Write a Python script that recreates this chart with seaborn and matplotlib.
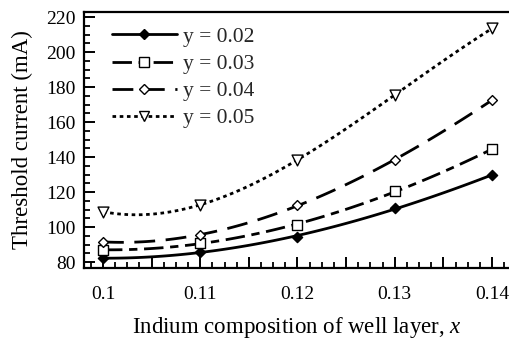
import numpy as np
import pandas as pd
import matplotlib
matplotlib.use("Agg")
import matplotlib.pyplot as plt
from matplotlib.lines import Line2D
from matplotlib.ticker import MultipleLocator, FuncFormatter
import seaborn as sns

# ---- data ----
x_vals = [0.10, 0.11, 0.12, 0.13, 0.14]
y_002 = [82.1, 85.9, 94.5, 110.7, 129.7]
y_003 = [86.9, 91.0, 101.1, 120.6, 144.4]
y_004 = [91.6, 95.4, 112.6, 138.3, 172.6]
y_005 = [108.8, 112.6, 138.6, 175.4, 213.5]
labels = ["y = 0.02", "y = 0.03", "y = 0.04", "y = 0.05"]
series = [y_002, y_003, y_004, y_005]

sns.set_theme(style="ticks")
plt.rcParams["font.family"] = ["Liberation Serif", "DejaVu Serif"]
plt.rcParams["mathtext.fontset"] = "custom"
plt.rcParams["mathtext.rm"] = "Liberation Serif"
plt.rcParams["mathtext.it"] = "Liberation Serif:italic"

fig = plt.figure(figsize=(5.1, 3.4), dpi=100)
ax = fig.add_axes([84 / 510, 1 - 268 / 340, 426 / 510, 256 / 340])

styles = [
    dict(marker="D", ms=5.2, mfc="black", dashes=None),
    dict(marker="s", ms=7.2, mfc="white", dashes=(7.0, 2.4, 3.0, 2.4)),
    dict(marker="D", ms=5.0, mfc="white", dashes=(7.5, 3.8)),
    dict(marker="v", ms=7.8, mfc="white", dashes=(1.3, 1.3)),
]
lw = 2.0

handles = []
for ys, lab, st in zip(series, labels, styles):
    df = pd.DataFrame({"x": x_vals, "y": ys})
    line_kws = dict(color="black", lw=lw, zorder=2)
    if st["dashes"] is not None:
        line_kws["dashes"] = st["dashes"]
    sns.regplot(data=df, x="x", y="y", order=3, ci=None, ax=ax,
                marker=st["marker"],
                scatter_kws=dict(s=st["ms"] ** 2, facecolors=st["mfc"],
                                 edgecolors="black", linewidths=1.0, zorder=3,
                                 alpha=1),
                line_kws=line_kws)
    hk = dict(color="black", lw=lw, marker=st["marker"], markersize=st["ms"],
              markerfacecolor=st["mfc"], markeredgecolor="black",
              markeredgewidth=1.0)
    if st["dashes"] is not None:
        hk["dashes"] = st["dashes"]
    handles.append(Line2D([0], [0], **hk))

ax.set_xlim(0.09805, 0.14185)
ax.set_ylim(76.6, 222.9)

ax.xaxis.set_major_locator(MultipleLocator(0.005))
ax.xaxis.set_minor_locator(MultipleLocator(0.00125))
ax.yaxis.set_major_locator(MultipleLocator(20))
ax.yaxis.set_minor_locator(MultipleLocator(5))


def xfmt(v, pos):
    k = v * 100
    if abs(k - round(k)) < 1e-6:
        return f"{round(v, 2):g}"
    return ""


ax.xaxis.set_major_formatter(FuncFormatter(xfmt))

ax.tick_params(which="both", direction="in", top=False, right=False,
               color="black", labelcolor="black", labelsize=14)
ax.tick_params(which="major", length=8, width=1.4)
ax.tick_params(which="minor", length=4, width=1.3)
ax.tick_params(axis="x", which="major", pad=13)
ax.tick_params(axis="y", which="major", pad=6)

for side in ["left", "bottom", "top"]:
    ax.spines[side].set_linewidth(1.6)
    ax.spines[side].set_color("black")
ax.spines["right"].set_visible(False)

ax.set_xlabel("Indium composition of well layer, $\\it{x}$", fontsize=16.5,
              color="black")
ax.set_ylabel("Threshold current (mA)", fontsize=16.5, color="black")
ax.xaxis.set_label_coords(0.5, -0.185)
ax.yaxis.set_label_coords(-0.12, 0.5)

ax.legend(handles=handles, labels=labels, loc="upper left",
          bbox_to_anchor=((112 - 84) / 426, 0.942), frameon=False,
          fontsize=15.5, handlelength=3.0, handletextpad=0.3,
          labelspacing=0.33, borderpad=0, borderaxespad=0, numpoints=1)

fig.savefig("out.png", dpi=100)
